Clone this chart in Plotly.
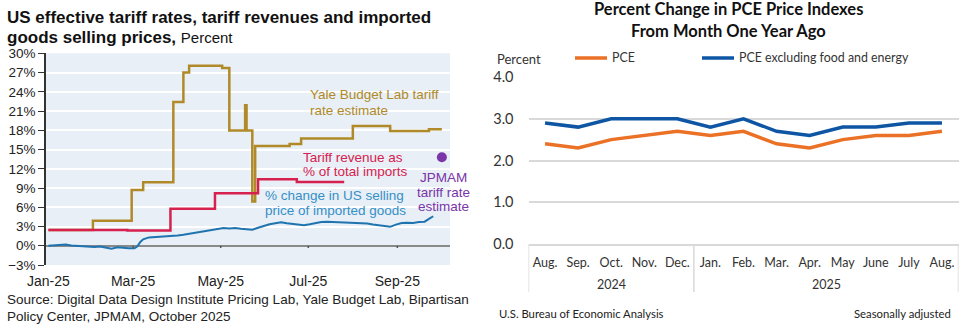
import plotly.graph_objects as go

W, H = 969, 328
def px(x): return x / W
def py(y): return 1 - y / H

# ---------------- Left chart data ----------------
yale_dates = ["2025-01-01", "2025-02-01", "2025-02-28", "2025-03-08", "2025-03-29", "2025-04-05",
              "2025-04-09", "2025-05-02", "2025-05-07", "2025-05-18", "2025-05-19", "2025-05-23",
              "2025-05-25", "2025-06-18", "2025-06-26", "2025-08-01", "2025-08-27", "2025-09-23",
              "2025-10-02"]
yale_vals = [2.45, 3.9, 8.7, 9.9, 22.4, 27.0, 28.05, 27.7, 17.95, 21.9, 17.95, 6.9,
             15.55, 15.85, 16.7, 18.65, 17.9, 18.15, 18.15]

rev_dates = ["2025-01-01", "2025-02-25", "2025-03-27", "2025-04-27", "2025-05-27", "2025-06-23", "2025-07-26"]
rev_vals = [2.45, 2.38, 5.75, 8.2, 10.35, 9.95, 9.95]

sell_dates = ["2025-01-01", "2025-01-05", "2025-01-09", "2025-01-13", "2025-01-17", "2025-01-21",
              "2025-01-25", "2025-01-29", "2025-02-02", "2025-02-06", "2025-02-10", "2025-02-14",
              "2025-02-18", "2025-02-22", "2025-02-26", "2025-03-02", "2025-03-04", "2025-03-06",
              "2025-03-08", "2025-03-12", "2025-03-16", "2025-03-20", "2025-03-24", "2025-03-28",
              "2025-04-01", "2025-04-05", "2025-04-09", "2025-04-13", "2025-04-17", "2025-04-21",
              "2025-04-25", "2025-04-29", "2025-05-03", "2025-05-07", "2025-05-11", "2025-05-15",
              "2025-05-19", "2025-05-23", "2025-05-27", "2025-05-31", "2025-06-04", "2025-06-08",
              "2025-06-12", "2025-06-16", "2025-06-20", "2025-06-24", "2025-06-28", "2025-07-02",
              "2025-07-06", "2025-07-10", "2025-07-14", "2025-07-18", "2025-07-22", "2025-07-26",
              "2025-07-30", "2025-08-03", "2025-08-07", "2025-08-11", "2025-08-15", "2025-08-19",
              "2025-08-23", "2025-08-27", "2025-08-31", "2025-09-04", "2025-09-08", "2025-09-12",
              "2025-09-16", "2025-09-20", "2025-09-23", "2025-09-26"]
sell_vals = [0.0, 0.05, 0.1, 0.2, 0.05, 0.0,
             -0.05, -0.15, -0.2, -0.1, -0.3, -0.45,
             -0.25, -0.35, -0.4, -0.4, -0.1, 0.6,
             1.0, 1.3, 1.35, 1.45, 1.4, 1.55,
             1.6, 1.7, 1.85, 2.0, 2.2, 2.35,
             2.45, 2.6, 2.75, 2.7, 2.75, 2.65,
             2.55, 2.5, 2.8, 3.1, 3.35, 3.5,
             3.65, 3.5, 3.4, 3.25, 3.2, 3.35,
             3.55, 3.7, 3.75, 3.7, 3.65, 3.6,
             3.55, 3.6, 3.5, 3.45, 3.3, 3.2,
             3.0, 2.95, 3.3, 3.55, 3.6, 3.55,
             3.7, 3.75, 4.2, 4.6]

jpmam_date = ["2025-10-02"]
jpmam_val = [13.8]

left_ticks = ["2025-01-01", "2025-03-01", "2025-05-01", "2025-07-01", "2025-09-01"]
left_ticktext = ["Jan-25", "Mar-25", "May-25", "Jul-25", "Sep-25"]

# ---------------- Right chart data ----------------
months = ["Aug.", "Sep.", "Oct.", "Nov.", "Dec.", "Jan.", "Feb.", "Mar.", "Apr.", "May", "June", "July", "Aug."]
years = ["2024"] * 5 + ["2025"] * 8
pce = [2.4, 2.3, 2.5, 2.6, 2.7, 2.6, 2.7, 2.4, 2.3, 2.5, 2.6, 2.6, 2.7]
core = [2.9, 2.8, 3.0, 3.0, 3.0, 2.8, 3.0, 2.7, 2.6, 2.8, 2.8, 2.9, 2.9]
series_names = ["PCE", "PCE excluding food and energy"]

GOLD = "#b08a28"
RED = "#d6214f"
BLUE = "#1f74b0"
BLUE_TXT = "#3590c8"
PURPLE = "#7a35a8"
ORANGE = "#ea7125"
NAVY = "#0e56a4"
GRID = "#d9d9d9"
ARIAL = "Liberation Sans, Arial, sans-serif"
CAL = "Lato, Carlito, Calibri, sans-serif"

idx = list(range(len(months)))

fig = go.Figure()

fig.add_trace(go.Scatter(x=yale_dates, y=yale_vals, mode="lines", line=dict(color=GOLD, width=2.5, shape="hv"),
                         showlegend=False, xaxis="x", yaxis="y"))
fig.add_trace(go.Scatter(x=rev_dates, y=rev_vals, mode="lines", line=dict(color=RED, width=2.5, shape="hv"),
                         showlegend=False, xaxis="x", yaxis="y"))
fig.add_trace(go.Scatter(x=sell_dates, y=sell_vals, mode="lines", line=dict(color=BLUE, width=2),
                         showlegend=False, xaxis="x", yaxis="y"))
fig.add_trace(go.Scatter(x=jpmam_date, y=jpmam_val, mode="markers", marker=dict(color=PURPLE, size=10),
                         showlegend=False, xaxis="x", yaxis="y"))

fig.add_trace(go.Scatter(x=idx, y=pce, mode="lines", name=series_names[0], showlegend=False,
                         line=dict(color=ORANGE, width=3.5), xaxis="x2", yaxis="y2"))
fig.add_trace(go.Scatter(x=idx, y=core, mode="lines", name=series_names[1], showlegend=False,
                         line=dict(color=NAVY, width=3.5), xaxis="x2", yaxis="y2"))

shapes = [dict(type="rect", xref="x domain", yref="y domain", x0=0, x1=1, y0=0, y1=1,
               fillcolor="#e8eff6", line=dict(width=0), layer="below")]
for t in left_ticks[1:]:
    shapes.append(dict(type="line", xref="x", yref="y", x0=t, x1=t, y0=0, y1=-0.35,
                       line=dict(color="#555", width=1.5)))

ann = []
def text(x, y, s, color, size, anchor="left", bold=False, family=ARIAL):
    ann.append(dict(x=px(x), y=py(y), xref="paper", yref="paper", text=(f"<b>{s}</b>" if bold else s),
                    showarrow=False, xanchor=anchor, yanchor="middle",
                    font=dict(color=color, size=size, family=family)))

text(5, 17, "US effective tariff rates, tariff revenues and imported", "#111", 17, bold=True)
ann.append(dict(x=px(5), y=py(37), xref="paper", yref="paper",
                text="<b>goods selling prices,</b> <span style='font-size:15px'>Percent</span>",
                showarrow=False, xanchor="left", yanchor="middle", font=dict(color="#111", size=17, family=ARIAL)))
text(308, 95, "Yale Budget Lab tariff", GOLD, 13.5)
text(308, 110, "rate estimate", GOLD, 13.5)
text(301, 157, "Tariff revenue as", RED, 13.5)
text(301, 171, "% of total imports", RED, 13.5)
text(263, 195, "% change in US selling", BLUE_TXT, 13.5)
text(263, 210, "price of imported goods", BLUE_TXT, 13.5)
text(443, 177, "JPMAM", PURPLE, 13.5, anchor="center")
text(443, 192, "tariff rate", PURPLE, 13.5, anchor="center")
text(443, 206, "estimate", PURPLE, 13.5, anchor="center")
text(5, 299, "Source: Digital Data Design Institute Pricing Lab, Yale Budget Lab, Bipartisan", "#222", 13.5)
text(5, 316, "Policy Center, JPMAM, October 2025", "#222", 13.5)

# Right chart texts
text(728, 9, "Percent Change in PCE Price Indexes", "#111", 16.5, anchor="center", bold=True, family=CAL)
text(728, 31, "From Month One Year Ago", "#111", 16.5, anchor="center", bold=True, family=CAL)
text(495, 59, "Percent", "#333", 13, family=CAL)
text(497, 313, "U.S. Bureau of Economic Analysis", "#222", 11.3, family=CAL)
text(953, 313, "Seasonally adjusted", "#222", 11.3, anchor="right", family=CAL)

# manual legend
for (x0, x1, tx), col, nm in zip([(575, 607, 610), (702, 734, 737)], [ORANGE, NAVY], series_names):
    shapes.append(dict(type="line", xref="paper", yref="paper", x0=px(x0), x1=px(x1), y0=py(58), y1=py(58),
                       line=dict(color=col, width=3.5)))
    text(tx, 58, nm, "#333", 12.4, family=CAL)

# year group labels and dividers on the right chart's category axis
groups = []
for i, yv in enumerate(years):
    if not groups or groups[-1][0] != yv:
        groups.append([yv, i, i])
    else:
        groups[-1][2] = i
for yv, i0, i1 in groups:
    ann.append(dict(x=(i0 + i1) / 2, y=py(284), xref="x2", yref="paper", text=yv, showarrow=False,
                    xanchor="center", yanchor="middle", font=dict(family=CAL, size=12.5, color="#333")))
bounds = [groups[0][1] - 0.5] + [g[2] + 0.5 for g in groups]
for b in bounds:
    shapes.append(dict(type="line", xref="x2", yref="paper", x0=b, x1=b, y0=py(244), y1=py(292),
                       line=dict(color=GRID, width=1.5)))

fig.update_layout(
    width=W, height=H, autosize=False,
    margin=dict(l=0, r=0, t=0, b=0, autoexpand=False),
    paper_bgcolor="white", plot_bgcolor="rgba(0,0,0,0)",
    shapes=shapes, annotations=ann, showlegend=False,
    xaxis=dict(domain=[px(46), px(450)], type="date", automargin=False,
               range=["2024-12-30 08:00", "2025-10-07 16:00"],
               tickvals=left_ticks, ticktext=left_ticktext, ticks="", showgrid=False,
               showline=False, zeroline=False, tickfont=dict(family=ARIAL, size=14, color="#222"),
               ticklabelstandoff=6),
    yaxis=dict(domain=[py(265), py(53.3)], range=[-3, 30], dtick=3, ticksuffix="%", automargin=False,
               showline=True, linecolor="#333", linewidth=1.5, ticks="outside", ticklen=6,
               tickcolor="#333", gridcolor="white", gridwidth=1.5,
               zeroline=True, zerolinecolor="#8a8a8a", zerolinewidth=1.5,
               tickfont=dict(family=ARIAL, size=13.5, color="#222")),
    xaxis2=dict(domain=[px(528.5), px(958.5)], range=[-0.5, len(months) - 0.5], anchor="y2", automargin=False,
                tickvals=idx, ticktext=months,
                showline=True, linecolor=GRID, linewidth=1.5, showgrid=False, zeroline=False, ticks="",
                ticklabelstandoff=6, tickfont=dict(family=CAL, size=12.5, color="#333")),
    yaxis2=dict(domain=[py(244), py(77)], range=[0, 4], dtick=1, tickformat=".1f", anchor="x2",
                automargin=False, showline=False, gridcolor=GRID, gridwidth=1.5, zeroline=False,
                ticklabelstandoff=14, tickfont=dict(family=CAL, size=14.5, color="#333")),
)

fig.write_html("out.html")
